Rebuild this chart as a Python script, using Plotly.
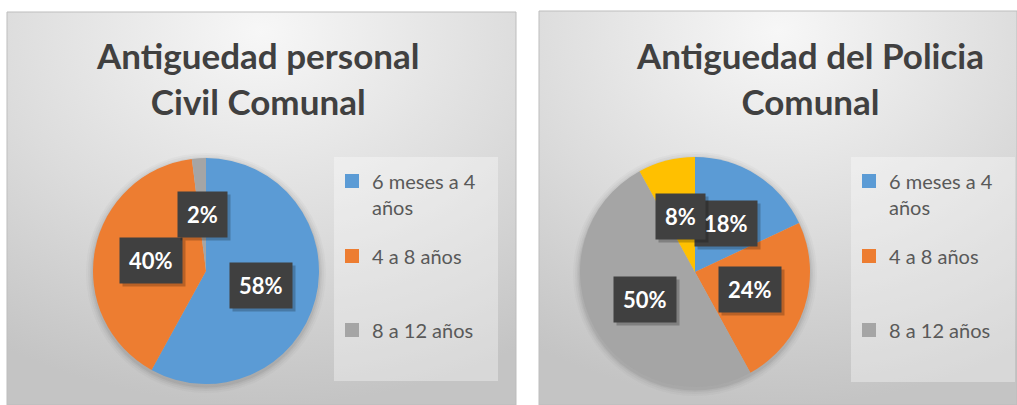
import math
import urllib.parse
import plotly.graph_objects as go

# --- data ---
categories = ["6 meses a 4<br>años", "4 a 8 años", "8 a 12 años"]
civil_values = [58, 40, 2]
policia_labels = ["6 meses a 4 años", "4 a 8 años", "8 a 12 años", "Más de 12 años"]
policia_values = [18, 24, 50, 8]
civil_title = "Antiguedad personal<br>Civil Comunal"
policia_title = "Antiguedad del Policia<br>Comunal"

colors = ["#5B9BD5", "#ED7D31", "#A5A5A5", "#FFC000"]

W, H = 1017, 405
FONT = "Lato"


def px(x):
    return x / W


def py(y):
    return 1 - y / H


# gradient background for each chart area (svg data uri)
svg = (
    "<svg xmlns='http://www.w3.org/2000/svg' width='500' height='400' preserveAspectRatio='none'>"
    "<defs><radialGradient id='g' cx='50%' cy='5%' r='95%' fx='50%' fy='5%'>"
    "<stop offset='0%' stop-color='#f7f7f7'/>"
    "<stop offset='55%' stop-color='#dcdcdc'/>"
    "<stop offset='100%' stop-color='#c4c4c4'/>"
    "</radialGradient></defs>"
    "<rect width='500' height='400' fill='url(#g)'/></svg>"
)
bg_src = "data:image/svg+xml;charset=utf-8," + urllib.parse.quote(svg)

# panel geometry (pixels)
panels = [
    dict(x0=7, y0=12, x1=516, y1=405, cx=206, cy=271, r=113, title_x=257,
         leg_box=(334, 157, 498, 381), leg_x=332, values=civil_values,
         labels=categories, title=civil_title),
    dict(x0=539, y0=11, x1=1017, y1=405, cx=695, cy=272, r=115, title_x=810,
         leg_box=(851, 157, 1015, 382), leg_x=849, values=policia_values,
         labels=policia_labels, title=policia_title),
]
legend_rows = [194, 256, 330]

fig = go.Figure()
images, shapes, annotations = [], [], []
layout_legends = {}
leg_idx = 1

for p in panels:
    images.append(dict(source=bg_src, xref="paper", yref="paper",
                       x=px(p["x0"]), y=py(p["y0"]),
                       sizex=px(p["x1"]) - px(p["x0"]), sizey=py(p["y0"]) - py(p["y1"]),
                       sizing="stretch", layer="below", xanchor="left", yanchor="top"))
    shapes.append(dict(type="rect", xref="paper", yref="paper",
                       x0=px(p["x0"]), x1=px(p["x1"]), y0=py(p["y1"]), y1=py(p["y0"]),
                       line=dict(color="#bdbdbd", width=1), fillcolor="rgba(0,0,0,0)",
                       layer="below"))
    lb = p["leg_box"]
    shapes.append(dict(type="rect", xref="paper", yref="paper",
                       x0=px(lb[0]), x1=px(lb[2]), y0=py(lb[3]), y1=py(lb[1]),
                       line=dict(width=0), fillcolor="rgba(255,255,255,0.35)",
                       layer="below"))
    # soft pie shadow
    for k, a in [(7, 0.025), (5, 0.03), (3, 0.04), (1.5, 0.05)]:
        rr = p["r"] + k
        shapes.append(dict(type="circle", xref="paper", yref="paper",
                           x0=px(p["cx"] - rr), x1=px(p["cx"] + rr),
                           y0=py(p["cy"] + 2 + rr), y1=py(p["cy"] + 2 - rr),
                           line=dict(width=0), fillcolor=f"rgba(0,0,0,{a})",
                           layer="below"))

    fig.add_trace(go.Pie(
        labels=p["labels"], values=p["values"], sort=False, direction="clockwise",
        marker=dict(colors=colors[:len(p["values"])], line=dict(width=0)),
        textinfo="none", showlegend=False,
        domain=dict(x=[px(p["cx"] - p["r"]), px(p["cx"] + p["r"])],
                    y=[py(p["cy"] + p["r"]), py(p["cy"] - p["r"])]),
    ))

    # data labels at half radius along each slice's mid angle
    total = sum(p["values"])
    cum = 0
    for v in p["values"]:
        mid = (cum + v / 2) / total * 2 * math.pi
        cum += v
        lx = p["cx"] + 0.5 * p["r"] * math.sin(mid)
        ly = p["cy"] - 0.5 * p["r"] * math.cos(mid)
        txt = f"{round(v / total * 100)}%"
        common = dict(xref="paper", yref="paper", x=px(lx), y=py(ly), text=txt,
                      showarrow=False, borderpad=9, xanchor="center", yanchor="middle")
        annotations.append(dict(common, bgcolor="rgba(0,0,0,0.22)", xshift=3, yshift=-3,
                                font=dict(family=FONT, size=22, color="rgba(0,0,0,0)",
                                          weight="bold")))
        annotations.append(dict(common, bgcolor="#404040",
                                font=dict(family=FONT, size=22, color="white",
                                          weight="bold")))

    annotations.append(dict(xref="paper", yref="paper", x=px(p["title_x"]), y=py(78),
                            text=p["title"], showarrow=False, xanchor="center",
                            yanchor="middle",
                            font=dict(family=FONT, size=35, color="#404040", weight="bold")))

    # legend: one legend per entry so the rows can follow the reference spacing
    for i, name in enumerate(categories):
        key = "legend" if leg_idx == 1 else f"legend{leg_idx}"
        fig.add_trace(go.Scatter(
            x=[None], y=[None], mode="markers", name=name, legend=key,
            marker=dict(symbol="square", size=14, color=colors[i]),
            showlegend=True, hoverinfo="skip",
        ))
        layout_legends[key] = dict(
            x=px(p["leg_x"]), y=py(legend_rows[i]), xanchor="left", yanchor="middle",
            bgcolor="rgba(0,0,0,0)", valign="top",
            font=dict(family=FONT, size=20, color="#595959"),
        )
        leg_idx += 1

fig.update_layout(
    width=W, height=H,
    margin=dict(l=0, r=0, t=0, b=0),
    paper_bgcolor="white", plot_bgcolor="rgba(0,0,0,0)",
    xaxis=dict(visible=False), yaxis=dict(visible=False),
    images=images, shapes=shapes, annotations=annotations,
    **layout_legends,
)

# drop the default page margin so the figure sits at the window's corner
fig.write_html("out.html", config={"displayModeBar": False},
               post_script="document.body.style.margin='0';")
